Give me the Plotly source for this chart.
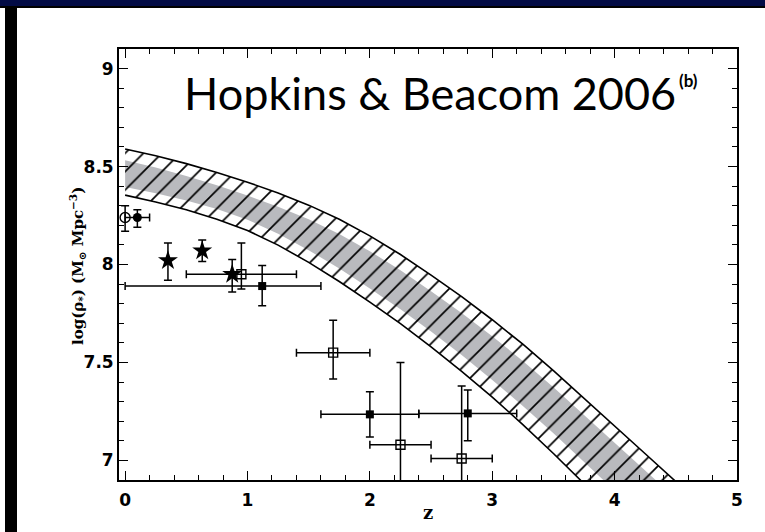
import plotly.graph_objects as go

# ---------------- data ----------------
# model band (outer, hatched) : upper and lower edges, log(rho*) vs z
band_hi_z = [0.0, 0.25, 0.5, 0.75, 1.0, 1.25, 1.5, 1.75, 2.0, 2.25, 2.5, 2.75,
             3.0, 3.25, 3.5, 3.75, 4.0, 4.25, 4.5, 4.75]
band_hi = [8.59, 8.555, 8.515, 8.47, 8.42, 8.365, 8.303, 8.231, 8.146, 8.051,
           7.946, 7.836, 7.718, 7.593, 7.458, 7.318, 7.176, 7.034, 6.892, 6.75]
band_lo_z = [0.0, 0.25, 0.5, 0.75, 1.0, 1.25, 1.5, 1.75, 2.0, 2.25, 2.5, 2.75,
             3.0, 3.25, 3.5, 3.75, 4.0]
band_lo = [8.354, 8.319, 8.279, 8.231, 8.174, 8.099, 8.011, 7.913, 7.808,
           7.698, 7.58, 7.455, 7.323, 7.183, 7.035, 6.883, 6.728]

# inner (grey) band
gray_hi_z = band_hi_z
gray_hi = [8.532, 8.495, 8.452, 8.405, 8.352, 8.295, 8.231, 8.156, 8.068, 7.971,
           7.864, 7.753, 7.634, 7.508, 7.373, 7.233, 7.091, 6.949, 6.807, 6.665]
gray_lo_z = band_lo_z
gray_lo = [8.396, 8.364, 8.327, 8.283, 8.229, 8.157, 8.073, 7.979, 7.878, 7.772,
           7.658, 7.538, 7.411, 7.278, 7.138, 6.993, 6.846]

# open circle
oc_z = [0.0]
oc_y = [8.24]
oc_up = [0.06]
oc_dn = [0.07]

# filled circle
fc_z = [0.10]
fc_y = [8.24]
fc_up = [0.04]
fc_dn = [0.05]
fc_xerr = [0.10]

# stars
st_z = [0.35, 0.63, 0.875]
st_y = [8.02, 8.07, 7.95]
st_up = [0.09, 0.055, 0.075]
st_dn = [0.10, 0.055, 0.09]

# open squares
os_z = [0.95, 1.70, 2.25, 2.75]
os_y = [7.95, 7.55, 7.08, 7.01]
os_up = [0.16, 0.165, 0.42, 0.37]
os_dn = [0.075, 0.135, 0.42, 0.37]
os_xerr = [0.45, 0.30, 0.25, 0.25]

# filled squares
fs_z = [1.12, 2.0, 2.8]
fs_y = [7.89, 7.235, 7.24]
fs_up = [0.105, 0.115, 0.12]
fs_dn = [0.10, 0.115, 0.14]
fs_xup = [0.48, 0.40, 0.40]
fs_xdn = [1.12, 0.40, 0.40]

x_ticks = [0, 1, 2, 3, 4, 5]
y_ticks = [7, 7.5, 8, 8.5, 9]

# ---------------- figure ----------------
fig = go.Figure()

# grey inner band
fig.add_trace(go.Scatter(
    x=gray_hi_z + gray_lo_z[::-1], y=gray_hi + gray_lo[::-1],
    mode="lines", fill="toself", fillcolor="#b9babe",
    line=dict(width=0), hoverinfo="skip", showlegend=False))

# hatched outer band
fig.add_trace(go.Scatter(
    x=band_hi_z + band_lo_z[::-1], y=band_hi + band_lo[::-1],
    mode="lines", fill="toself", fillcolor="rgba(0,0,0,0)",
    fillpattern=dict(shape="/", size=13, solidity=0.13, fgcolor="black",
                     bgcolor="rgba(0,0,0,0)", fillmode="replace"),
    line=dict(color="black", width=1.6), hoverinfo="skip", showlegend=False))

err_style = dict(color="black", thickness=1.5, width=4)

fig.add_trace(go.Scatter(
    x=oc_z, y=oc_y, mode="markers",
    marker=dict(symbol="circle-open", size=10, color="black", line=dict(width=1.4)),
    error_y=dict(type="data", symmetric=False, array=oc_up, arrayminus=oc_dn, **err_style),
    showlegend=False))

fig.add_trace(go.Scatter(
    x=fc_z, y=fc_y, mode="markers",
    marker=dict(symbol="circle", size=9, color="black"),
    error_y=dict(type="data", symmetric=False, array=fc_up, arrayminus=fc_dn, **err_style),
    error_x=dict(type="data", array=fc_xerr, **err_style),
    showlegend=False))

fig.add_trace(go.Scatter(
    x=st_z, y=st_y, mode="markers",
    marker=dict(symbol="star", size=15, color="black"),
    error_y=dict(type="data", symmetric=False, array=st_up, arrayminus=st_dn, **err_style),
    showlegend=False))

fig.add_trace(go.Scatter(
    x=os_z, y=os_y, mode="markers",
    marker=dict(symbol="square-open", size=9, color="black", line=dict(width=1.4)),
    error_y=dict(type="data", symmetric=False, array=os_up, arrayminus=os_dn, **err_style),
    error_x=dict(type="data", array=os_xerr, **err_style),
    showlegend=False))

fig.add_trace(go.Scatter(
    x=fs_z, y=fs_y, mode="markers",
    marker=dict(symbol="square", size=8, color="black"),
    error_y=dict(type="data", symmetric=False, array=fs_up, arrayminus=fs_dn, **err_style),
    error_x=dict(type="data", symmetric=False, array=fs_xup, arrayminus=fs_xdn, **err_style),
    showlegend=False))

tick_font = dict(family="DejaVu Sans", size=17, color="black", weight="bold")

fig.update_xaxes(
    range=[-0.05, 5.0], tickvals=x_ticks, ticktext=[str(v) for v in x_ticks],
    ticks="inside", ticklen=9, tickwidth=1.4, tickcolor="black",
    minor=dict(dtick=0.2, tick0=0, ticks="inside", ticklen=5, tickwidth=1.2, tickcolor="black"),
    showline=True, linewidth=1.8, linecolor="black", mirror="allticks",
    showgrid=False, zeroline=False, tickfont=tick_font, ticklabelstandoff=4)

fig.update_yaxes(
    range=[6.9, 9.1], tickvals=y_ticks, ticktext=[str(v) for v in y_ticks],
    ticks="inside", ticklen=9, tickwidth=1.4, tickcolor="black",
    minor=dict(dtick=0.1, tick0=7, ticks="inside", ticklen=5, tickwidth=1.2, tickcolor="black"),
    showline=True, linewidth=1.8, linecolor="black", mirror="allticks",
    showgrid=False, zeroline=False, tickfont=tick_font, ticklabelstandoff=0)

# plot area in px: x 119..737, y 49..480
L, R, T, B = 119, 737, 49, 480
W, H = R - L, B - T


def px(x):
    return (x - L) / W


def py(y):
    return (B - y) / H


shapes = [
    # dark blue strip along the top
    dict(type="rect", xref="paper", yref="paper", x0=px(0), x1=px(765),
         y0=py(6), y1=py(0), fillcolor="#020b45", line=dict(width=0), layer="below"),
    dict(type="rect", xref="paper", yref="paper", x0=px(0), x1=px(765),
         y0=py(8), y1=py(6), fillcolor="black", line=dict(width=0), layer="below"),
    # black bar on the left
    dict(type="rect", xref="paper", yref="paper", x0=px(5), x1=px(17),
         y0=py(532), y1=py(8), fillcolor="black", line=dict(width=0), layer="below"),
]

annotations = [
    dict(text="Hopkins & Beacom 2006", xref="paper", yref="paper",
         x=px(430), y=py(93), xanchor="center", yanchor="middle", showarrow=False,
         font=dict(family="Lato", size=45, color="black")),
    dict(text="(b)", xref="paper", yref="paper",
         x=px(688), y=py(80), xanchor="center", yanchor="middle", showarrow=False,
         font=dict(family="Lato", size=17, color="black", weight="bold")),
    dict(text="log(ρ<sub>*</sub>) (M<sub>⊙</sub> Mpc<sup>−3</sup>)", xref="paper", yref="paper",
         x=px(77), y=py(266), xanchor="center", yanchor="middle", textangle=-90,
         showarrow=False, font=dict(family="DejaVu Serif", size=15, color="black", weight="bold")),
    dict(text="z", xref="paper", yref="paper", x=px(428), y=py(512),
         xanchor="center", yanchor="middle", showarrow=False,
         font=dict(family="DejaVu Serif", size=18, color="black", weight="bold")),
]

fig.update_layout(
    width=765, height=532,
    margin=dict(l=L, r=765 - R, t=T, b=532 - B),
    paper_bgcolor="white", plot_bgcolor="white",
    shapes=shapes, annotations=annotations, showlegend=False)

fig.write_html("out.html")
